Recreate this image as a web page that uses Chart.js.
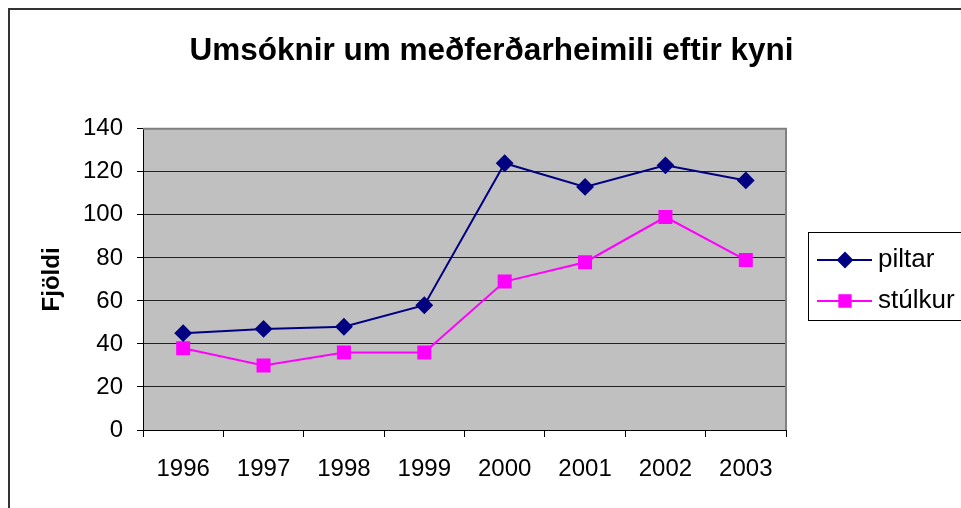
<!DOCTYPE html>
<html>
<head>
<meta charset="utf-8">
<script src="https://cdn.jsdelivr.net/npm/chart.js@4/dist/chart.umd.min.js"></script>
<style>
  html, body { margin: 0; padding: 0; background: #fff; }
  #wrap { width: 961px; height: 508px; position: relative; }
</style>
</head>
<body>
<div id="wrap"><canvas id="c" width="961" height="508"></canvas></div>
<script>
const chartTitle = 'Umsóknir um meðferðarheimili eftir kyni';
const yAxisTitle = 'Fjöldi';
const categories = ['1996', '1997', '1998', '1999', '2000', '2001', '2002', '2003'];
const seriesNames = ['piltar', 'stúlkur'];
const piltar = [45, 47, 48, 58, 124, 113, 123, 116];
const stulkur = [38, 30, 36, 36, 69, 78, 99, 79];
const yMin = 0, yMax = 140, yStep = 20;

const FONT = 'Liberation Sans, Arial, sans-serif';

const decor = {
  id: 'decor',
  beforeDraw(chart) {
    const ctx = chart.ctx, a = chart.chartArea;
    ctx.save();
    ctx.fillStyle = '#fff';
    ctx.fillRect(0, 0, chart.width, chart.height);
    // outer frame
    ctx.strokeStyle = '#333';
    ctx.lineWidth = 2;
    ctx.beginPath();
    ctx.moveTo(9, chart.height + 2);
    ctx.lineTo(9, 9);
    ctx.lineTo(chart.width + 2, 9);
    ctx.stroke();
    // plot background
    ctx.fillStyle = '#C0C0C0';
    ctx.fillRect(a.left, a.top, a.right - a.left, a.bottom - a.top);
    ctx.restore();
  },
  beforeDatasetsDraw(chart) {
    const ctx = chart.ctx, a = chart.chartArea;
    ctx.save();
    ctx.strokeStyle = '#808080';
    ctx.lineWidth = 2;
    ctx.beginPath();
    ctx.moveTo(a.left, a.top);
    ctx.lineTo(a.right, a.top);
    ctx.lineTo(a.right, a.bottom);
    ctx.stroke();
    ctx.restore();
  },
  afterDraw(chart) {
    const ctx = chart.ctx;
    ctx.save();
    // legend box
    ctx.strokeStyle = '#000';
    ctx.lineWidth = 1;
    ctx.strokeRect(808.5, 232.5, 160, 88);
    const rows = [260, 301];
    chart.data.datasets.forEach((ds, i) => {
      const y = rows[i];
      ctx.strokeStyle = ds.borderColor;
      ctx.lineWidth = 2;
      ctx.beginPath();
      ctx.moveTo(817, y);
      ctx.lineTo(872, y);
      ctx.stroke();
      Chart.helpers.drawPoint(ctx, {
        pointStyle: ds.pointStyle,
        radius: ds.legendRadius,
        borderWidth: 1
      }, 845, y);
      ctx.fillStyle = ds.pointBackgroundColor;
      ctx.fill();
      ctx.fillStyle = '#000';
      ctx.font = '26px ' + FONT;
      ctx.textBaseline = 'middle';
      ctx.textAlign = 'left';
      ctx.fillText(ds.label, 878, y);
    });
    ctx.restore();
  }
};

new Chart(document.getElementById('c'), {
  type: 'line',
  data: {
    labels: categories,
    datasets: [
      {
        label: seriesNames[0],
        data: piltar,
        borderColor: '#000080',
        backgroundColor: '#000080',
        pointBackgroundColor: '#000080',
        pointBorderColor: '#000080',
        pointStyle: 'rectRot',
        pointRadius: 7.5,
        legendRadius: 7,
        borderWidth: 2,
        tension: 0
      },
      {
        label: seriesNames[1],
        data: stulkur,
        borderColor: '#FF00FF',
        backgroundColor: '#FF00FF',
        pointBackgroundColor: '#FF00FF',
        pointBorderColor: '#FF00FF',
        pointStyle: 'rect',
        pointRadius: 8.5,
        legendRadius: 8,
        borderWidth: 2,
        tension: 0
      }
    ]
  },
  options: {
    responsive: false,
    animation: false,
    devicePixelRatio: 1,
    layout: { padding: { left: 22, right: 0, top: 0, bottom: 0 } },
    plugins: {
      legend: { display: false },
      tooltip: { enabled: false },
      title: {
        display: true,
        fullSize: true,
        text: chartTitle,
        color: '#000',
        font: { family: FONT, size: 31.5, weight: 'bold' },
        padding: { top: 32, bottom: 59 }
      }
    },
    scales: {
      x: {
        type: 'category',
        offset: true,
        grid: {
          display: true,
          offset: true,
          drawOnChartArea: false,
          drawTicks: true,
          tickLength: 7,
          tickColor: '#000'
        },
        border: { display: true, color: '#000', width: 1 },
        ticks: {
          color: '#000',
          font: { family: FONT, size: 24 },
          padding: 18,
          maxRotation: 0,
          autoSkip: false
        },
        afterFit(scale) { scale.height = 78; }
      },
      y: {
        min: yMin,
        max: yMax,
        grid: {
          color: '#222',
          lineWidth: 1,
          drawTicks: true,
          tickLength: 6,
          tickColor: '#000'
        },
        border: { display: true, color: '#000', width: 1 },
        ticks: {
          stepSize: yStep,
          color: '#000',
          font: { family: FONT, size: 24 },
          padding: 14
        },
        title: {
          display: true,
          text: yAxisTitle,
          color: '#000',
          font: { family: FONT, size: 24, weight: 'bold' },
          padding: { top: 16, bottom: 0 }
        },
        afterFit(scale) { scale.width = 121; }
      },
      yRight: {
        type: 'linear',
        position: 'right',
        display: true,
        grid: { display: false, drawTicks: false },
        border: { display: false },
        ticks: { display: false },
        afterFit(scale) { scale.width = 175; }
      }
    }
  },
  plugins: [decor]
});
</script>
</body>
</html>
